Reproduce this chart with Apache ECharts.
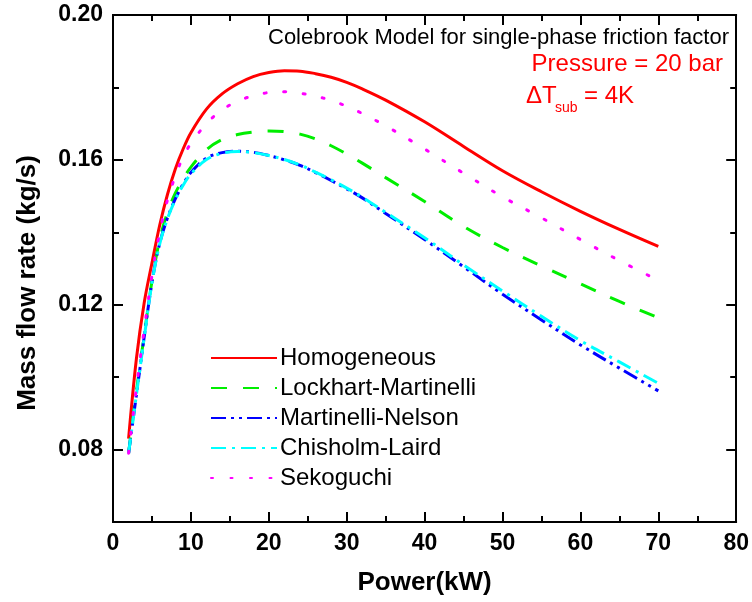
<!DOCTYPE html>
<html><head><meta charset="utf-8">
<script src="https://cdn.jsdelivr.net/npm/echarts@6/dist/echarts.min.js"></script>
<style>html,body{margin:0;padding:0;background:#fff}#c{width:752px;height:602px}</style>
</head><body><div id="c"></div>
<script>
var power = [2,3,4,5,6,7,8,9,10,12,14,16,18,20,22,24,26,28,30,32,35,40,45,50,55,60,65,70];
var homogeneous = [0.083,0.105,0.1205,0.1315,0.1420,0.1505,0.1575,0.1630,0.1675,0.1740,0.1782,0.1810,0.1830,0.1841,0.1846,0.1845,0.1838,0.1828,0.1814,0.1796,0.1765,0.1705,0.1637,0.1570,0.1512,0.1458,0.1408,0.1361];
var lockhart = [0.079,0.0960,0.1115,0.1265,0.1380,0.1455,0.1508,0.1547,0.1580,0.1628,0.1656,0.1670,0.1677,0.1680,0.1678,0.1671,0.1658,0.1639,0.1616,0.1591,0.1551,0.1485,0.1416,0.1358,0.1307,0.1258,0.1209,0.1164];
var martinelliNelson = [0.079,0.0950,0.1110,0.1262,0.1370,0.1440,0.1492,0.1533,0.1565,0.1605,0.1620,0.1624,0.1621,0.1612,0.1600,0.1585,0.1565,0.1543,0.1520,0.1495,0.1452,0.1380,0.1305,0.1229,0.1158,0.1089,0.1025,0.0962];
var chisholmLaird = [0.079,0.0950,0.1108,0.1260,0.1368,0.1438,0.1490,0.1530,0.1561,0.1601,0.1618,0.1623,0.1620,0.1612,0.1601,0.1586,0.1566,0.1545,0.1522,0.1497,0.1455,0.1385,0.1310,0.1238,0.1168,0.1101,0.1042,0.0983];
var sekoguchi = [0.079,0.097,0.113,0.1280,0.1400,0.1490,0.1555,0.1608,0.1645,0.1700,0.1738,0.1762,0.1777,0.1786,0.1788,0.1784,0.1776,0.1764,0.1748,0.1728,0.1694,0.1630,0.1563,0.1498,0.1440,0.1380,0.1322,0.1267];
var yMajor = [0.08,0.12,0.16,0.20];
var yMinor = [0.06,0.10,0.14,0.18];
var seriesNames = ['Homogeneous','Lockhart-Martinelli','Martinelli-Nelson','Chisholm-Laird','Sekoguchi'];

function pts(ys){ return power.map(function(x,i){ return [x, ys[i]]; }); }
var F = 'Liberation Sans, Arial, sans-serif';
var chart = echarts.init(document.getElementById('c'), null, {renderer:'canvas'});
var axLine = {show:true, lineStyle:{color:'#000', width:2}};
function yAx(pos, major){
  return {type:'value', position:pos, min:0.06, max:0.20, interval:0.02,
    axisLine:axLine, splitLine:{show:false},
    axisTick:{show:true, inside:true, length: major?10:6, customValues: major?yMajor:yMinor, lineStyle:{color:'#000',width:2}},
    axisLabel:{show: major && pos==='left', customValues: yMajor, fontFamily:F, fontWeight:'bold', fontSize:23, color:'#000', margin:10,
      formatter:function(v){return v.toFixed(2);}}
  };
}
function xAx(pos){
  return {type:'value', position:pos, min:0, max:80, interval:10,
    axisLine:axLine, splitLine:{show:false},
    axisTick:{show:true, inside:true, length:10, lineStyle:{color:'#000',width:2}},
    minorTick:{show:true, splitNumber:2, length:6, lineStyle:{color:'#000',width:2}},
    axisLabel:{show: pos==='bottom', fontFamily:F, fontWeight:'bold', fontSize:23, color:'#000', margin:10},
    name: pos==='bottom' ? 'Power(kW)' : '', nameLocation:'middle', nameGap:61,
    nameTextStyle:{fontFamily:F, fontWeight:'bold', fontSize:26, color:'#000', verticalAlign:'middle'}
  };
}
function ser(name, ys, color, type, cap){
  return {name:name, type:'line', data:pts(ys), symbol:'none', smooth:0.35, xAxisIndex:0, yAxisIndex:0,
    lineStyle:{color:color, width:3, type:type, cap:cap||'butt'}, itemStyle:{color:color}, z:3};
}
chart.setOption({
  animation:false,
  grid:{left:113, right:14, top:15, bottom:80},
  xAxis:[xAx('bottom'), xAx('top')],
  yAxis:[yAx('left',true), yAx('left',false), yAx('right',true), yAx('right',false)],
  legend:{orient:'vertical', left:205, top:341, itemWidth:66, itemHeight:14, itemGap:6,
    itemStyle:{opacity:0},
    textStyle:{fontFamily:F, fontSize:24, color:'#000', padding:[0,0,0,-2]},
    data:seriesNames},
  series:[
    ser(seriesNames[0], homogeneous, '#ff0000', 'solid'),
    ser(seriesNames[1], lockhart, '#00ee00', [16,16]),
    ser(seriesNames[2], martinelliNelson, '#0000ff', [15,5,3,5,3,5]),
    ser(seriesNames[3], chisholmLaird, '#00ffff', [15,6,3,6]),
    ser(seriesNames[4], sekoguchi, '#ff00ff', [2,17.5], 'round')
  ],
  graphic:[
    {type:'text', x:28, y:283, rotation:Math.PI/2, style:{text:'Mass flow rate (kg/s)', font:'bold 26px '+F, fill:'#000', align:'center', verticalAlign:'middle'}},
    {type:'text', x:729, y:38, style:{text:'Colebrook Model for single-phase friction factor', font:'22px '+F, fill:'#000', align:'right', verticalAlign:'middle'}},
    {type:'text', x:723, y:64, style:{text:'Pressure = 20 bar', font:'24px '+F, fill:'#ff0000', align:'right', verticalAlign:'middle'}},
    {type:'text', x:526, y:96, style:{text:'ΔT', font:'24px '+F, fill:'#ff0000', verticalAlign:'middle'}},
    {type:'text', x:555, y:108, style:{text:'sub', font:'14px '+F, fill:'#ff0000', verticalAlign:'middle'}},
    {type:'text', x:584, y:96, style:{text:'= 4K', font:'24px '+F, fill:'#ff0000', verticalAlign:'middle'}}
  ]
});
</script></body></html>
